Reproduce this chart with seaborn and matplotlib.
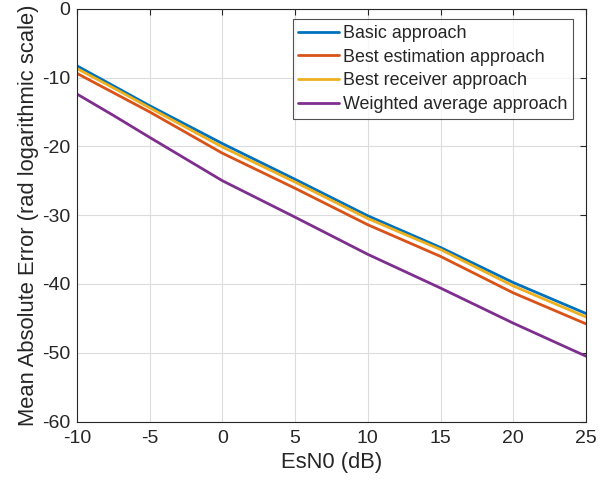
import numpy as np
import pandas as pd
import matplotlib
matplotlib.use("Agg")
import matplotlib.pyplot as plt
import seaborn as sns

esn0 = [-10, -7.5, -5, 0, 5, 10, 15, 20, 25]
basic = [-8.3, -11.2, -14.1, -19.6, -24.8, -30.1, -34.7, -39.8, -44.3]
best_est = [-9.4, -12.2, -15.0, -21.0, -26.1, -31.4, -36.0, -41.3, -45.8]
best_rx = [-8.7, -11.5, -14.4, -20.1, -25.2, -30.5, -35.0, -40.3, -44.8]
weighted = [-12.4, -15.5, -18.7, -25.0, -30.3, -35.7, -40.6, -45.7, -50.5]

names = ["Basic approach", "Best estimation approach",
         "Best receiver approach", "Weighted average approach"]
colors = ["#0072BD", "#D95319", "#EDB120", "#7E2F8E"]
xticks = [-10, -5, 0, 5, 10, 15, 20, 25]
yticks = [-60, -50, -40, -30, -20, -10, 0]

frames = []
for n, vals in zip(names, [basic, best_est, best_rx, weighted]):
    frames.append(pd.DataFrame({"EsN0": esn0, "MAE": vals, "Method": n}))
df = pd.concat(frames, ignore_index=True)

sns.set_style("white")
plt.rcParams["font.family"] = ["Liberation Sans", "DejaVu Sans"]

fig = plt.figure(figsize=(6.06, 4.84), dpi=100)
ax = fig.add_axes([0.127, 0.129, 0.840, 0.853])
sns.lineplot(data=df, x="EsN0", y="MAE", hue="Method", hue_order=names,
             palette=colors, linewidth=2.0, ax=ax, legend=True)

ax.set_xlim(-10, 25)
ax.set_ylim(-60, 0)
ax.set_xticks(xticks)
ax.set_yticks(yticks)
ax.set_xticklabels([str(t) for t in xticks], fontsize=14)
ax.set_yticklabels([str(t) for t in yticks], fontsize=14)
ax.grid(True, color="#dcdcdc", linewidth=0.8)
ax.tick_params(direction="in", length=4, top=True, right=True,
               color="#262626", labelcolor="#262626")
ax.tick_params(axis="x", pad=6)
ax.tick_params(axis="y", pad=5)
for s in ax.spines.values():
    s.set_color("#262626")
    s.set_linewidth(0.8)
ax.set_xlabel("EsN0 (dB)", fontsize=15.8, color="#262626", labelpad=4)
ax.set_ylabel("Mean Absolute Error (rad logarithmic scale)", fontsize=15.8,
              color="#262626", labelpad=2)

leg = ax.legend(loc="upper right", bbox_to_anchor=(0.974, 0.974),
                fontsize=12.9, frameon=True, fancybox=False,
                handlelength=2.3, handletextpad=0.2, borderpad=0.3,
                labelspacing=0.38, borderaxespad=0.0)
leg.get_frame().set_edgecolor("#262626")
leg.get_frame().set_linewidth(0.8)
for line in leg.get_lines():
    line.set_linewidth(2.0)

fig.savefig("out.png", dpi=100)
